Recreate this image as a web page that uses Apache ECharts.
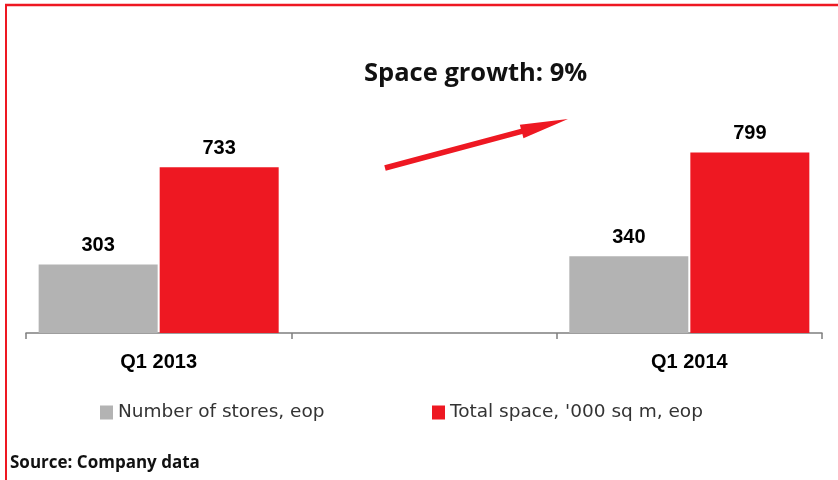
<!DOCTYPE html>
<html>
<head>
<meta charset="utf-8">
<script src="https://cdn.jsdelivr.net/npm/echarts@6/dist/echarts.min.js"></script>
<style>html,body{margin:0;padding:0;background:#fff}#c{width:838px;height:480px}</style>
</head>
<body>
<div id="c"></div>
<script>
const categories = ['Q1 2013', '', 'Q1 2014'];
const storesName = 'Number of stores, eop';
const spaceName = "Total space, '000 sq m, eop";
const storesValues = [303, null, 340];
const spaceValues = [733, null, 799];
const titleText = 'Space growth: 9%';
const sourceText = 'Source: Company data';

const RED = '#ee1822';
const GRAY = '#b3b3b3';

function arrowPoints(x0, y0, x1, y1, shaftHalf, headHalf, headLen) {
  const dx = x1 - x0, dy = y1 - y0, L = Math.hypot(dx, dy);
  const ux = dx / L, uy = dy / L, nx = -uy, ny = ux;
  const bx = x1 - ux * headLen, by = y1 - uy * headLen;
  return [
    [x0 + nx * shaftHalf, y0 + ny * shaftHalf],
    [bx + nx * shaftHalf, by + ny * shaftHalf],
    [bx + nx * headHalf, by + ny * headHalf],
    [x1, y1],
    [bx - nx * headHalf, by - ny * headHalf],
    [bx - nx * shaftHalf, by - ny * shaftHalf],
    [x0 - nx * shaftHalf, y0 - ny * shaftHalf]
  ];
}

const chart = echarts.init(document.getElementById('c'), null, {renderer: 'canvas'});
const labelStyle = {show: true, position: 'top', distance: 9, color: '#000', fontFamily: 'Liberation Sans, Arial, sans-serif', fontWeight: 'bold', fontSize: 20};
const legendText = {color: '#333', fontFamily: '"DejaVu Sans", sans-serif', fontSize: 18.5};
chart.setOption({
  animation: false,
  backgroundColor: '#fff',
  grid: {left: 26, right: 16, top: 107, bottom: 147, containLabel: false},
  xAxis: {
    type: 'category', data: categories,
    axisLine: {show: true, lineStyle: {color: '#7f7f7f', width: 1.5}},
    axisTick: {show: true, alignWithLabel: false, length: 6, lineStyle: {color: '#7f7f7f', width: 1.5}},
    axisLabel: {color: '#000', fontFamily: 'Liberation Sans, Arial, sans-serif', fontWeight: 'bold', fontSize: 20, margin: 19, interval: 0}
  },
  yAxis: {type: 'value', min: 0, max: 1000, show: false, splitLine: {show: false}},
  legend: [
    {left: 95, top: 398, itemWidth: 13, itemHeight: 14, itemGap: 6, icon: 'rect', data: [storesName], textStyle: legendText},
    {left: 427, top: 398, itemWidth: 13, itemHeight: 14, itemGap: 6, icon: 'rect', data: [spaceName], textStyle: legendText}
  ],
  series: [
    {name: storesName, type: 'bar', data: storesValues, barWidth: 119, barGap: '1.7%', itemStyle: {color: GRAY}, label: labelStyle},
    {name: spaceName, type: 'bar', data: spaceValues, barWidth: 119, itemStyle: {color: RED}, label: labelStyle}
  ],
  graphic: [
    {type: 'line', shape: {x1: 5, y1: 5, x2: 838, y2: 5}, style: {stroke: RED, lineWidth: 2.5}},
    {type: 'line', shape: {x1: 6, y1: 5, x2: 6, y2: 480}, style: {stroke: RED, lineWidth: 2}},
    {type: 'text', left: 364, top: 61, style: {text: titleText, fill: '#111', font: 'bold 25.5px "Open Sans", sans-serif'}},
    {type: 'text', left: 10, top: 455, style: {text: sourceText, fill: '#111', font: 'bold 17px "Open Sans", sans-serif'}},
    {type: 'polygon', shape: {points: arrowPoints(385, 168, 568, 119, 2.8, 7, 48)}, style: {fill: RED}}
  ]
});
</script>
</body>
</html>
